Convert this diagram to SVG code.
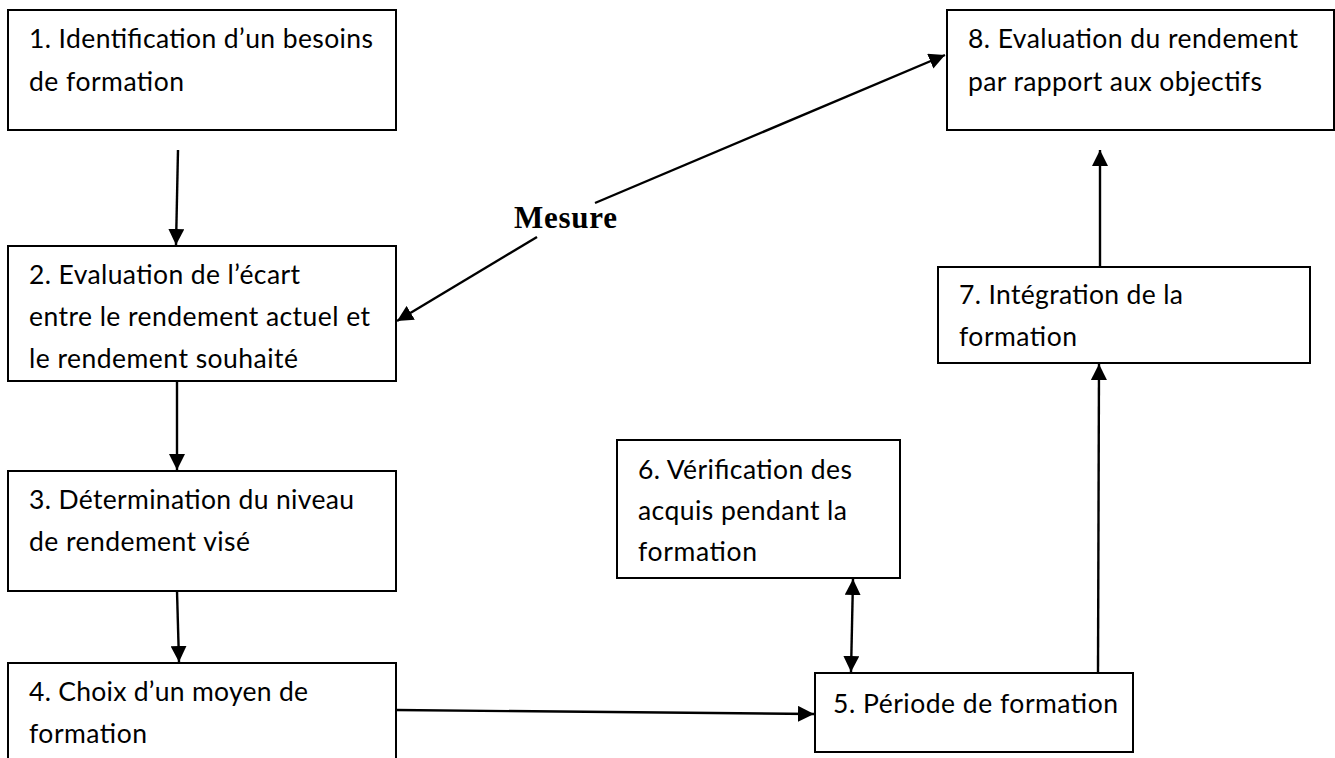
<svg xmlns="http://www.w3.org/2000/svg" width="1335" height="758" viewBox="0 0 1335 758">
  <style>
    .box { fill: #ffffff; stroke: #000000; stroke-width: 2; }
    .lbl { font-family: Lato, "Open Sans", "Liberation Sans", sans-serif; font-size: 26.5px; fill: #000000; }
    .link { fill: none; stroke: #000000; stroke-width: 2.4; }
    .tag { font-family: "Liberation Serif", "Times New Roman", serif; font-weight: bold; font-size: 31px; fill: #000000; }
  </style>
  <defs>
    <marker id="head" viewBox="0 0 16 16" refX="16" refY="8" markerWidth="16" markerHeight="16" markerUnits="userSpaceOnUse" orient="auto-start-reverse">
      <path d="M0,0 L16,8 L0,16 z" fill="#000000"/>
    </marker>
  </defs>

  <rect width="1335" height="758" fill="#ffffff"/>

  <!-- connectors -->
  <g id="connectors">
    <line class="link" x1="178" y1="150" x2="176" y2="245" marker-end="url(#head)"/>
    <line class="link" x1="177" y1="381" x2="177" y2="470" marker-end="url(#head)"/>
    <line class="link" x1="177" y1="591" x2="179" y2="662" marker-end="url(#head)"/>
    <line class="link" x1="396" y1="710" x2="814" y2="714" marker-end="url(#head)"/>
    <line class="link" x1="853" y1="579" x2="851" y2="672" marker-start="url(#head)" marker-end="url(#head)"/>
    <line class="link" x1="1098" y1="673" x2="1099" y2="364" marker-end="url(#head)"/>
    <line class="link" x1="1100" y1="267" x2="1100" y2="150" marker-end="url(#head)"/>
    <line class="link" x1="537" y1="237" x2="397" y2="321" marker-end="url(#head)"/>
    <line class="link" x1="595" y1="203" x2="945" y2="55" marker-end="url(#head)"/>
    <text class="tag" x="514" y="228" textLength="103">Mesure</text>
  </g>

  <!-- steps -->
  <g id="step1">
    <rect class="box" x="8" y="10" width="388" height="120"/>
    <text class="lbl" x="29" y="48" textLength="344">1. Identification d’un besoins</text>
    <text class="lbl" x="29" y="91" textLength="155">de formation</text>
  </g>
  <g id="step2">
    <rect class="box" x="8" y="246" width="388" height="135"/>
    <text class="lbl" x="29" y="284" textLength="271">2. Evaluation de l’écart</text>
    <text class="lbl" x="29" y="326" textLength="341">entre le rendement actuel et</text>
    <text class="lbl" x="29" y="368" textLength="269">le rendement souhaité</text>
  </g>
  <g id="step3">
    <rect class="box" x="8" y="471" width="388" height="120"/>
    <text class="lbl" x="29" y="509" textLength="325">3. Détermination du niveau</text>
    <text class="lbl" x="29" y="551" textLength="221">de rendement visé</text>
  </g>
  <g id="step4">
    <rect class="box" x="8" y="663" width="388" height="110"/>
    <text class="lbl" x="29" y="701" textLength="279">4. Choix d’un moyen de</text>
    <text class="lbl" x="29" y="743" textLength="118">formation</text>
  </g>
  <g id="step5">
    <rect class="box" x="815" y="673" width="318" height="79"/>
    <text class="lbl" x="833" y="713" textLength="285">5. Période de formation</text>
  </g>
  <g id="step6">
    <rect class="box" x="617" y="440" width="283" height="138"/>
    <text class="lbl" x="638" y="479" textLength="214">6. Vérification des</text>
    <text class="lbl" x="638" y="520" textLength="209">acquis pendant la</text>
    <text class="lbl" x="638" y="561" textLength="119">formation</text>
  </g>
  <g id="step7">
    <rect class="box" x="938" y="267" width="372" height="96"/>
    <text class="lbl" x="959" y="304" textLength="224">7. Intégration de la</text>
    <text class="lbl" x="959" y="346" textLength="118">formation</text>
  </g>
  <g id="step8">
    <rect class="box" x="947" y="10" width="387" height="120"/>
    <text class="lbl" x="968" y="48" textLength="330">8. Evaluation du rendement</text>
    <text class="lbl" x="968" y="91" textLength="294">par rapport aux objectifs</text>
  </g>
</svg>
